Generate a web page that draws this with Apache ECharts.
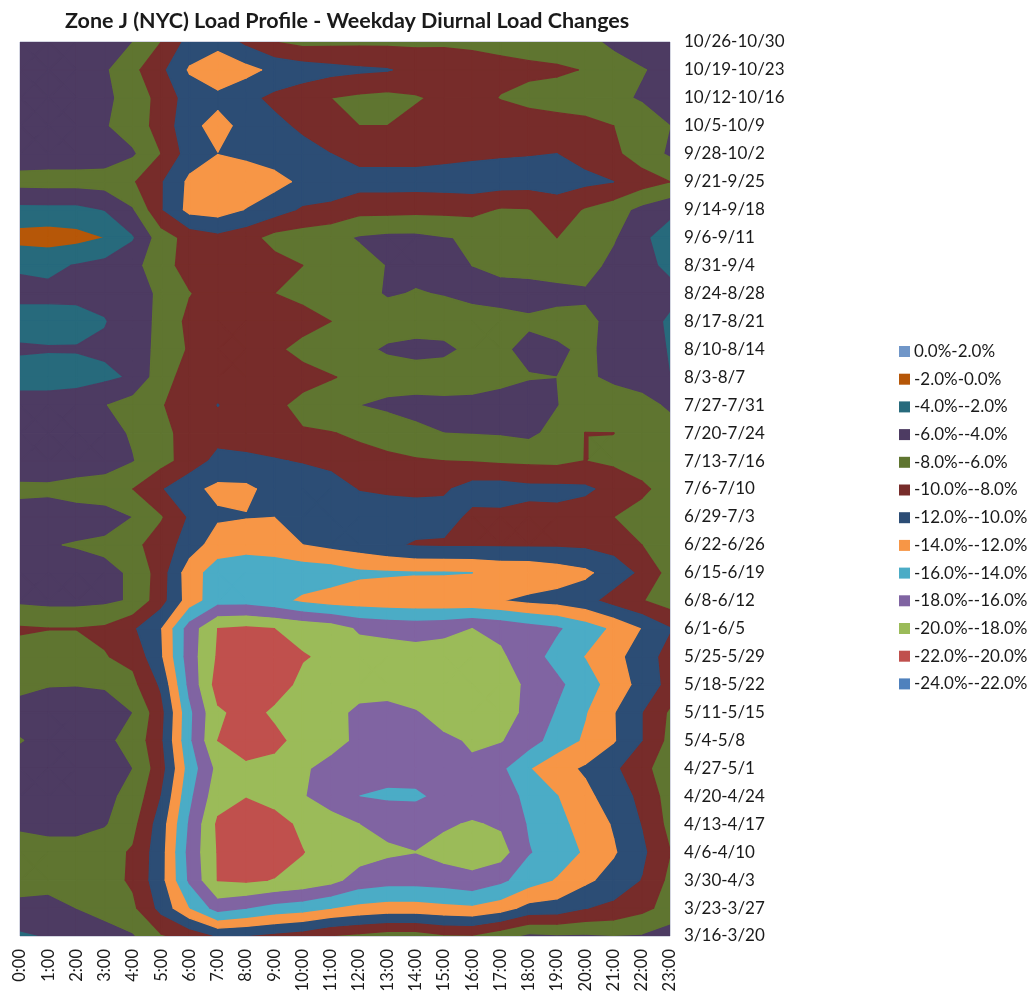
<!DOCTYPE html>
<html>
<head>
<meta charset="utf-8">
<style>html,body{margin:0;padding:0;background:#fff}#c{width:1033px;height:992px}</style>
<script src="https://cdn.jsdelivr.net/npm/echarts@6/dist/echarts.min.js"></script>
</head>
<body>
<div id="c"></div>
<script>
const hours = ['0:00','1:00','2:00','3:00','4:00','5:00','6:00','7:00','8:00','9:00','10:00','11:00','12:00','13:00','14:00','15:00','16:00','17:00','18:00','19:00','20:00','21:00','22:00','23:00'];
const weeks = ['10/26-10/30','10/19-10/23','10/12-10/16','10/5-10/9','9/28-10/2','9/21-9/25','9/14-9/18','9/6-9/11','8/31-9/4','8/24-8/28','8/17-8/21','8/10-8/14','8/3-8/7','7/27-7/31','7/20-7/24','7/13-7/16','7/6-7/10','6/29-7/3','6/22-6/26','6/15-6/19','6/8-6/12','6/1-6/5','5/25-5/29','5/18-5/22','5/11-5/15','5/4-5/8','4/27-5/1','4/20-4/24','4/13-4/17','4/6-4/10','3/30-4/3','3/23-3/27','3/16-3/20'];
const bandNames = ['0.0%-2.0%','-2.0%-0.0%','-4.0%--2.0%','-6.0%--4.0%','-8.0%--6.0%','-10.0%--8.0%','-12.0%--10.0%','-14.0%--12.0%','-16.0%--14.0%','-18.0%--16.0%','-20.0%--18.0%','-22.0%--20.0%','-24.0%--22.0%'];
const bandTops = [2,0,-2,-4,-6,-8,-10,-12,-14,-16,-18,-20,-22];
const bandColors = ['#7096c8','#b65708','#276a7c','#4d3b62','#5f7530','#772c2a','#2c4d75','#f79646','#4bacc6','#8064a2','#9bbb59','#c0504d','#4f81bd'];
const loadChange = [
[-5,-5,-5,-5.2,-6,-8,-10.7,-11.2,-9.5,-8,-7.4,-7.5,-7.6,-7.6,-7.6,-7.7,-7.6,-7.4,-7.2,-6.8,-6.5,-5.6,-5,-4.1],
[-5,-5,-5,-5.7,-7.5,-9.5,-12.2,-13.5,-12.6,-11.5,-11,-10.6,-10.3,-10.1,-9.5,-9.2,-8.9,-8.6,-8.4,-8.3,-7.9,-6.8,-6.1,-5.5],
[-5,-5,-5,-5.5,-6.9,-8.6,-10.9,-11.4,-10.5,-9.5,-8.8,-8,-7.6,-7.4,-7.8,-8.4,-8.8,-7.9,-7.4,-7.1,-6.8,-6.4,-5.8,-5],
[-5,-5,-5,-5.8,-7,-8.7,-11.4,-12.7,-11.3,-10.5,-9.6,-8.7,-8,-8,-8.6,-9,-9.2,-9.2,-9,-8.8,-8.6,-8,-7,-6],
[-5,-5,-5,-5,-5.7,-8,-10.9,-11.95,-11.5,-11.1,-10.7,-10,-9.2,-9.2,-9.2,-9.4,-9.6,-9.8,-9.9,-10,-9.4,-8.4,-7,-5.7],
[-6.6,-6.7,-6.7,-6.8,-7.8,-9.8,-12.4,-13.6,-13.3,-12.6,-11.6,-11.3,-10.8,-10.8,-10.8,-10.9,-11,-10.9,-10.8,-10.7,-10.4,-10,-8.9,-8],
[-3.4,-3.4,-3.4,-4.05,-5.8,-9.8,-12.6,-12.9,-11.9,-10.9,-9.7,-9.4,-8.6,-8.6,-8.5,-8.5,-8.6,-7.8,-7.9,-9.1,-7.8,-6.9,-5.4,-4.4],
[-1.2,-1,-1.3,-2,-3.8,-7,-8.7,-9.4,-8.7,-7.3,-7,-6.6,-5.8,-5.5,-5.5,-5.9,-6.2,-6.6,-7,-8,-7.2,-6.2,-4.3,-3.2],
[-3.8,-3.6,-4.1,-4.6,-5.3,-7.3,-8.7,-9.3,-9,-8.7,-8,-7.3,-6.8,-5.9,-5.5,-5.4,-6,-6.4,-6.6,-6.9,-6.8,-5.4,-4.5,-3.6],
[-4.4,-4.4,-4.4,-4.5,-5.2,-6.3,-7.9,-8.8,-8.4,-8,-7.4,-7,-6.7,-5.8,-6.1,-5.9,-5.6,-5.4,-5.3,-5.4,-5.7,-5.5,-5,-4.5],
[-3.3,-3.3,-3.4,-3.9,-4.9,-6.5,-8.5,-9.2,-9.3,-9.2,-8.8,-8,-7.3,-7,-6.9,-6.8,-6.6,-6.5,-6.25,-6.6,-6.4,-5.5,-4.8,-3.7],
[-4.2,-4.1,-4.1,-4.3,-4.9,-6.6,-8.2,-9.1,-9.4,-8.4,-7.3,-7,-6.5,-5.7,-5.4,-5.6,-6.4,-6.3,-5.5,-5.7,-6.3,-5.5,-4.6,-3.9],
[-3.2,-3.2,-3.3,-3.6,-4.2,-7.2,-8.8,-9.1,-9.3,-9.1,-8.8,-8.1,-7.6,-7.1,-6.9,-6.9,-6.9,-6.5,-6.1,-6,-6.3,-5.6,-4.9,-4],
[-4.8,-4.8,-5,-5.9,-6.9,-7.9,-8.7,-10.03,-9.1,-8.5,-7.3,-7,-6,-5.5,-5.4,-5.5,-5.4,-5.2,-4.9,-5.9,-7.1,-7,-6.8,-5.6],
[-4.9,-4.8,-4.9,-5.3,-6.2,-7.6,-8.5,-9.2,-9.3,-9.1,-8.2,-8.05,-7.8,-7.4,-6.4,-6,-5.9,-5.8,-5.5,-6.7,-8.02,-8.01,-7.2,-7],
[-5,-4.9,-4.9,-5.1,-5.9,-7.3,-8.8,-10.6,-10.3,-10.1,-9.9,-9.5,-8.4,-8.3,-8.2,-8,-7.9,-7.7,-7.6,-7.5,-8.02,-7.6,-7,-6.5],
[-6.3,-6.3,-6.7,-6.9,-8,-9.8,-11.5,-12.4,-12.4,-11.3,-10.8,-10.8,-9.9,-9.7,-9.6,-9.7,-10.8,-10.9,-10.5,-10.5,-10.3,-9.4,-8.4,-7.1],
[-5.4,-5.2,-5.2,-5.3,-6,-7.8,-10.2,-11.7,-11.9,-11.98,-11.1,-11,-11,-10.9,-10.8,-10.8,-9.5,-9.5,-9.3,-9.4,-9,-8,-7.2,-7],
[-5.9,-5.9,-6.1,-6.3,-7.5,-8.9,-10.9,-13,-13.2,-13,-12,-11.4,-11,-10.3,-9.8,-9.7,-9.7,-9.7,-9.7,-9.7,-9.6,-9.3,-8,-6.7],
[-5.3,-5.2,-5.2,-5.6,-6.2,-9,-13.1,-14.9,-15.3,-15.2,-15.2,-15,-14.3,-14.2,-14.1,-14.1,-14,-13.6,-13.5,-13,-12.4,-11,-9.6,-7.2],
[-5.6,-5.4,-5.4,-5.6,-6.2,-9.2,-12.9,-15.2,-15.2,-14.6,-13.6,-13,-12.9,-12.7,-12.6,-12.5,-12.4,-12.05,-11.5,-11.2,-10.6,-9.2,-8.1,-7],
[-8.2,-8.05,-8.05,-8.3,-9.7,-11.9,-16.9,-20,-20.3,-20,-19.5,-19,-17.7,-17.4,-17.2,-17.4,-18,-17.5,-16.8,-16.2,-15,-13.6,-11.9,-10.1],
[-7.3,-6.7,-6.7,-7.9,-8.5,-11.7,-17,-20.2,-21,-20.9,-20.1,-19.7,-19,-19,-18.8,-19,-19.2,-18.3,-16.8,-15.3,-13.9,-12.6,-11,-9.2],
[-6.6,-6.1,-6.05,-6.2,-7.5,-10.3,-16.5,-20.8,-21.3,-20.7,-19.6,-19.4,-19.3,-19.3,-19.3,-19.3,-19.3,-18.9,-17.6,-16.4,-14.9,-13.1,-11.3,-9.3],
[-5,-4.9,-4.9,-5,-6,-9.3,-15.5,-19.7,-20.6,-19.7,-19.3,-19,-17.3,-17,-17.8,-18.8,-19.2,-19,-17.4,-15.8,-14.1,-12.1,-10,-7.7],
[-6.1,-5.3,-5.1,-5.6,-6.6,-9.6,-15.6,-20,-21.2,-20.4,-19.4,-18.8,-17.5,-17.3,-17.3,-17.6,-18.2,-18.1,-16.9,-15,-13.7,-12.15,-10,-7.4],
[-5,-4.9,-4.9,-5,-6,-9.1,-14.8,-18.5,-19.5,-19.5,-18.3,-17.2,-16.9,-16.6,-16.7,-17,-17.7,-16.4,-14.1,-12.7,-11.7,-10.4,-8.4,-7.2],
[-4.9,-4.9,-4.9,-5.5,-6.6,-10,-15.5,-19.2,-19.9,-19.3,-18.15,-16.8,-15.95,-15.7,-15.7,-16.4,-16.6,-16.7,-15.6,-14.05,-12.5,-11,-9.5,-7.1],
[-5.6,-5.4,-5.4,-5.8,-7.4,-11,-16.2,-20.3,-21.2,-20.7,-19.6,-19,-18,-17.4,-17.1,-17.7,-18.2,-17.7,-15.8,-14.5,-13.3,-11.8,-9.9,-7.4],
[-7,-6.7,-6.7,-7.3,-8.2,-11.2,-16.6,-20.1,-21.2,-21,-20.05,-19.2,-18.9,-18.3,-18.02,-18.7,-19,-18.8,-16.1,-15.1,-13.7,-12.2,-10.4,-8.05],
[-7,-6.7,-7.2,-7.2,-8.3,-11.3,-16.3,-20.05,-20.3,-19.9,-19.4,-18.6,-17.1,-16.7,-16.7,-16.9,-17.4,-16.4,-14.9,-13.8,-12.4,-11.2,-9.9,-7.5],
[-5.3,-5.3,-6,-6.4,-7.6,-10.6,-13.9,-16.8,-16,-15.2,-14.8,-14,-13.4,-13.1,-13.1,-13.4,-13.6,-12.9,-11.3,-11.1,-10.05,-9.5,-8.5,-7.3],
[-3.7,-4.1,-5,-5.5,-5.8,-7.8,-8.6,-10.1,-9.9,-9.4,-8.9,-7.9,-7.5,-7,-7,-7.7,-7.8,-6.7,-5.5,-5.7,-5.7,-5.9,-5.8,-5]
];

const FONT = 'Lato, "Open Sans", sans-serif';

// keep the part of a polygon [x, y, value] on one side of a level
function clip(poly, level, keepAbove) {
  const out = [];
  for (let i = 0; i < poly.length; i++) {
    const a = poly[i], b = poly[(i + 1) % poly.length];
    const ina = keepAbove ? a[2] >= level : a[2] <= level;
    const inb = keepAbove ? b[2] >= level : b[2] <= level;
    if (ina) out.push(a);
    if (ina !== inb) {
      const t = (level - a[2]) / (b[2] - a[2]);
      out.push([a[0] + t * (b[0] - a[0]), a[1] + t * (b[1] - a[1]), level]);
    }
  }
  return out;
}

const cells = [];
for (let r = 0; r < weeks.length - 1; r++) {
  for (let c = 0; c < hours.length - 1; c++) cells.push([c, r]);
}

function bandRenderer(b) {
  const hi = bandTops[b], lo = hi - 2;
  return function (params, api) {
    const c = api.value(0), r = api.value(1);
    const tl = [c, r, loadChange[r][c]];
    const tr = [c + 1, r, loadChange[r][c + 1]];
    const br = [c + 1, r + 1, loadChange[r + 1][c + 1]];
    const bl = [c, r + 1, loadChange[r + 1][c]];
    const vals = [tl[2], tr[2], br[2], bl[2]];
    // nearly flat cells are split at their centre; others are cut with straight lines
    let parts = [[tl, tr, br, bl]];
    if (Math.max(...vals) - Math.min(...vals) < 0.5) {
      const mid = [c + 0.5, r + 0.5, (vals[0] + vals[1] + vals[2] + vals[3]) / 4];
      parts = [[tl, tr, mid], [tr, br, mid], [br, bl, mid], [bl, tl, mid]];
    }
    const children = [];
    parts.forEach(part => {
      let poly = clip(part, lo, true);
      if (poly.length) poly = clip(poly, hi, false);
      if (poly.length < 3) return;
      children.push({
        type: 'polygon',
        shape: { points: poly.map(v => api.coord([v[0], v[1]])) },
        style: { fill: bandColors[b], stroke: bandColors[b], lineWidth: 1.4, lineJoin: 'round' },
        silent: true
      });
    });
    return children.length ? { type: 'group', children } : null;
  };
}

const chart = echarts.init(document.getElementById('c'), null, { renderer: 'canvas' });
chart.setOption({
  animation: false,
  backgroundColor: '#fff',
  title: {
    text: 'Zone J (NYC) Load Profile - Weekday Diurnal Load Changes',
    left: 60, top: 5,
    textStyle: { fontFamily: FONT, fontWeight: 'bold', fontSize: 21.5, color: '#1a1a1a' }
  },
  legend: {
    orient: 'vertical', left: 894, top: 337,
    icon: 'rect', itemWidth: 11, itemHeight: 11, itemGap: 8.7,
    selectedMode: false,
    data: bandNames,
    textStyle: { fontFamily: FONT, fontSize: 17, lineHeight: 19, color: '#1a1a1a', padding: [0, 0, 0, -1] }
  },
  grid: { left: 20, right: 363, top: 42, bottom: 56, show: true, outerBoundsMode: 'none', borderColor: '#a9adc4', borderWidth: 1, backgroundColor: 'transparent' },
  xAxis: {
    type: 'value', min: 0, max: hours.length - 1, interval: 1,
    axisLine: { show: false }, axisTick: { show: false }, splitLine: { show: false },
    axisLabel: { rotate: 90, margin: 13, fontFamily: FONT, fontSize: 16.5, color: '#1a1a1a', formatter: v => hours[v] }
  },
  yAxis: {
    type: 'value', min: 0, max: weeks.length - 1, interval: 1, inverse: true, position: 'right',
    axisLine: { show: false }, axisTick: { show: false }, splitLine: { show: false },
    axisLabel: { margin: 14, fontFamily: FONT, fontSize: 17, color: '#1a1a1a', padding: [4, 0, 0, 0], formatter: v => weeks[v] }
  },
  series: bandNames.map((name, b) => ({
    type: 'custom', name,
    coordinateSystem: 'cartesian2d',
    itemStyle: { color: bandColors[b] },
    clip: true,
    renderItem: bandRenderer(b),
    encode: { x: 0, y: 1 },
    data: cells
  }))
});
</script>
</body>
</html>
